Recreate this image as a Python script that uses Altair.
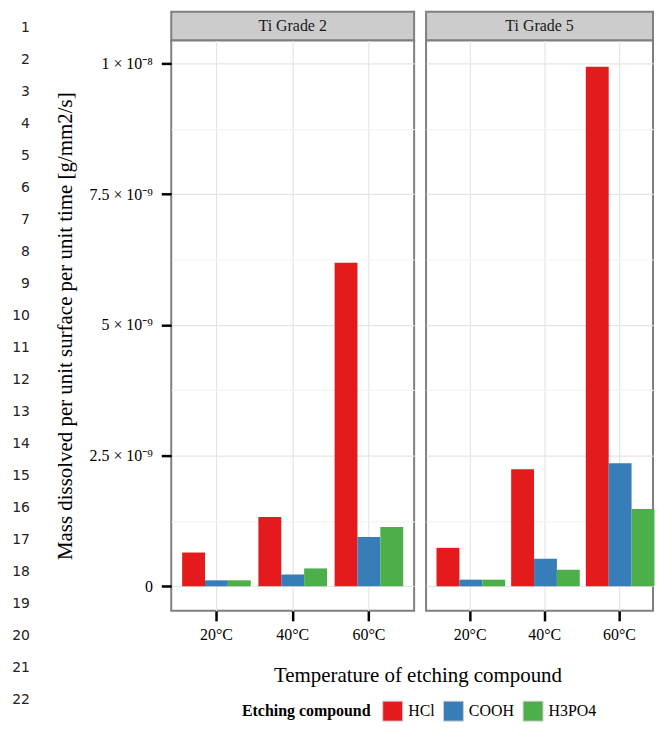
import altair as alt
import pandas as pd

SERIF = "Liberation Serif"

GRADES = ["Ti Grade 2", "Ti Grade 5"]
TEMPERATURES = ["20°C", "40°C", "60°C"]
COMPOUNDS = ["HCl", "COOH", "H3PO4"]
COLORS = ["#E41A1C", "#377EB8", "#4DAF4A"]

# mass dissolved per unit surface per unit time [g/mm2/s]
G2_HCL = [0.646e-9, 1.325e-9, 6.19e-9]
G2_COOH = [0.114e-9, 0.228e-9, 0.945e-9]
G2_H3PO4 = [0.114e-9, 0.342e-9, 1.135e-9]
G5_HCL = [0.736e-9, 2.238e-9, 9.94e-9]
G5_COOH = [0.127e-9, 0.527e-9, 2.352e-9]
G5_H3PO4 = [0.127e-9, 0.317e-9, 1.477e-9]

Y_DOMAIN = [-0.47e-9, 10.44e-9]
Y_MAJOR = [0, 2.5e-9, 5e-9, 7.5e-9, 1e-8]
Y_MINOR = [1.25e-9, 3.75e-9, 6.25e-9, 8.75e-9]
Y_LABELS = ["0", "2.5 × 10⁻⁹", "5 × 10⁻⁹", "7.5 × 10⁻⁹", "1 × 10⁻⁸"]
LINE_NUMBERS = list(range(1, 23))

series = {
    ("Ti Grade 2", "HCl"): G2_HCL,
    ("Ti Grade 2", "COOH"): G2_COOH,
    ("Ti Grade 2", "H3PO4"): G2_H3PO4,
    ("Ti Grade 5", "HCl"): G5_HCL,
    ("Ti Grade 5", "COOH"): G5_COOH,
    ("Ti Grade 5", "H3PO4"): G5_H3PO4,
}
rows = []
for (grade, comp), vals in series.items():
    for t, v in zip(TEMPERATURES, vals):
        rows.append({"grade": grade, "compound": comp, "temperature": t, "value": v})
df = pd.DataFrame(rows)

major_arr = "[" + ",".join(repr(v) for v in Y_MAJOR) + "]"
label_arr = "[" + ",".join("'" + s + "'" for s in Y_LABELS) + "]"
minor_test = f"indexof({major_arr}, datum.value) < 0"
label_expr = f"indexof({major_arr}, datum.value) < 0 ? '' : {label_arr}[indexof({major_arr}, datum.value)]"
y_values = sorted(Y_MAJOR + Y_MINOR)

grid_color = {"condition": {"test": minor_test, "value": "#f4f4f4"}, "value": "#e5e5e5"}

legend = alt.Legend(
    title="Etching compound", orient="none", legendX=234, legendY=692,
    direction="horizontal", titleOrient="left",
    titleFont=SERIF, titleFontSize=16, titleFontWeight="bold", titleColor="black",
    titlePadding=11, labelFont=SERIF, labelFontSize=16, labelColor="black",
    symbolType="square", symbolSize=400, symbolStrokeColor="#cccccc",
    symbolStrokeWidth=1, labelOffset=5, columnPadding=6,
)

x_axis = alt.Axis(
    title=None, labelAngle=0, labelFont=SERIF, labelFontSize=16, labelColor="black",
    labelPadding=6, ticks=True, tickSize=10, tickWidth=2.5, tickColor="black",
    domain=False, grid=True, gridColor="#e5e5e5", gridWidth=1.2, bandPosition=0.5,
)

y_axis_left = alt.Axis(
    values=y_values, labelExpr=label_expr,
    title="Mass dissolved per unit surface per unit time [g/mm2/s]",
    titleFont=SERIF, titleFontSize=21, titleFontWeight="normal", titleColor="black",
    titlePadding=14, labelFont=SERIF, labelFontSize=16, labelColor="black",
    labelPadding=9, domain=False, ticks=True, tickSize=10, tickWidth=2.5,
    tickColor="black", tickOpacity={"condition": {"test": minor_test, "value": 0}, "value": 1},
    grid=True, gridColor=grid_color, gridWidth=1.2,
)
y_axis_right = alt.Axis(
    values=y_values, labels=False, ticks=False, domain=False, title=None,
    grid=True, gridColor=grid_color, gridWidth=1.2,
)

PANEL_VIEW = alt.ViewBackground(fill="white", stroke="#7f7f7f", strokeWidth=2)
STRIP_VIEW = alt.ViewBackground(fill="#cccccc", stroke="#7f7f7f", strokeWidth=2)


def bars(grade, width, x_scale, y_axis):
    return (
        alt.Chart(df)
        .transform_filter(alt.datum.grade == grade)
        .mark_bar()
        .encode(
            x=alt.X("temperature:N", sort=TEMPERATURES, scale=x_scale, axis=x_axis),
            xOffset=alt.XOffset("compound:N", sort=COMPOUNDS,
                                scale=alt.Scale(domain=COMPOUNDS, paddingInner=0, paddingOuter=0)),
            y=alt.Y("value:Q", scale=alt.Scale(domain=Y_DOMAIN, nice=False, zero=False), axis=y_axis),
            color=alt.Color("compound:N", scale=alt.Scale(domain=COMPOUNDS, range=COLORS), legend=legend),
        )
        .properties(width=width, height=573, view=PANEL_VIEW)
    )


def strip(grade, width):
    return (
        alt.Chart(pd.DataFrame({"grade": [grade]}))
        .mark_text(font=SERIF, fontSize=16, color="#1a1a1a")
        .encode(
            x=alt.X("grade:N", axis=None),
            y=alt.Y("grade:N", axis=None),
            text="grade:N",
        )
        .properties(width=width, height=29, view=STRIP_VIEW)
    )


W1, W2 = 244, 228
col2 = alt.vconcat(
    strip(GRADES[0], W1),
    bars(GRADES[0], W1, alt.Scale(paddingInner=0.1, paddingOuter=0.143), y_axis_left),
    spacing=0, bounds="flush",
)
col5 = alt.vconcat(
    strip(GRADES[1], W2),
    bars(GRADES[1], W2, alt.Scale(paddingInner=0.1, paddingOuter=0.07, align=1), y_axis_right),
    spacing=0, bounds="flush",
)

panels = alt.hconcat(
    col2, col5, spacing=10,
    title=alt.Title("Temperature of etching compound", orient="bottom", anchor="middle",
                    font=SERIF, fontSize=21, fontWeight="normal", color="black",
                    offset=21, dx=64),
)

line_numbers = (
    alt.Chart(pd.DataFrame({"n": LINE_NUMBERS, "edge": [1] * len(LINE_NUMBERS)}))
    .mark_text(font="DejaVu Sans", fontSize=14, align="right", baseline="middle", color="#222222")
    .encode(
        x=alt.X("edge:Q", scale=alt.Scale(domain=[0, 1]), axis=None),
        y=alt.Y("n:Q", scale=alt.Scale(domain=[0.5, 22.5], reverse=True, nice=False, zero=False), axis=None),
        text="n:Q",
    )
    .properties(width=21, height=708, view=alt.ViewBackground(fill="transparent", stroke="transparent"))
)

chart = (
    alt.hconcat(line_numbers, panels, spacing=22)
    .properties(padding={"left": 0, "top": 1, "right": 0, "bottom": 0}, background="white")
    .configure(font=SERIF)
)

chart.save("out.html", embed_options={"renderer": "svg", "actions": False})
